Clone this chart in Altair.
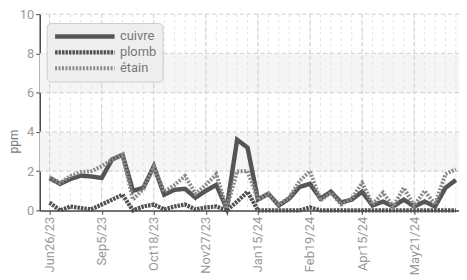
import altair as alt
import pandas as pd

tick_labels = ["Jun26/23", "Sep5/23", "Oct18/23", "Nov27/23", "Jan15/24", "Feb19/24", "Apr15/24", "May21/24"]
series = ["cuivre", "plomb", "étain"]

cuivre = [1.65, 1.35, 1.6, 1.77, 1.73, 1.65, 2.6, 2.83, 1.0, 1.15,
          2.25, 0.8, 1.05, 1.1, 0.65, 1.0, 1.3, 0.1, 3.6, 3.2,
          0.55, 0.85, 0.25, 0.6, 1.2, 1.35, 0.6, 0.95, 0.4, 0.55,
          0.95, 0.25, 0.45, 0.2, 0.55, 0.2, 0.45, 0.2, 1.15, 1.55]
plomb = [0.4, 0.0, 0.2, 0.12, 0.05, 0.3, 0.55, 0.8, 0.0, 0.2,
         0.3, 0.05, 0.2, 0.3, 0.05, 0.15, 0.2, 0.0, 0.45, 0.95,
         0.0, 0.0, 0.0, 0.0, 0.0, 0.15, 0.0, 0.0, 0.0, 0.0,
         0.0, 0.0, 0.0, 0.0, 0.0, 0.0, 0.0, 0.0, 0.0, 0.0]
etain = [1.7, 1.4, 1.75, 1.95, 2.0, 2.25, 2.6, 2.85, 0.55, 1.1,
         2.2, 0.95, 1.3, 1.75, 0.85, 1.3, 1.85, 0.1, 2.0, 2.0,
         0.55, 0.85, 0.3, 0.65, 1.5, 2.0, 0.5, 0.9, 0.3, 0.6,
         1.4, 0.3, 0.9, 0.2, 1.15, 0.25, 1.0, 0.3, 1.85, 2.1]

y_ticks = [0, 2, 4, 6, 8, 10]
band_lo = [2, 6]
band_hi = [4, 8]

rows = []
for name, vals in zip(series, [cuivre, plomb, etain]):
    for i, v in enumerate(vals):
        rows.append({"i": i, "v": v, "s": name})
df = pd.DataFrame(rows)

n = len(cuivre)
xdom = [-0.95, n - 0.7]
xscale = alt.Scale(domain=xdom, nice=False, zero=False)
yscale = alt.Scale(domain=[0, 10], nice=False)

FONT = "Roboto, sans-serif"

label_arr = "[" + ",".join("'" + t + "'" for t in tick_labels) + "]"
x_axis = alt.Axis(values=list(range(0, n, 5)), labelExpr=label_arr + "[datum.value/5]",
                  labelAngle=-90, labelAlign="right", labelBaseline="middle",
                  grid=False, title=None, tickSize=4, labelPadding=2,
                  domainColor="#444", tickColor="#444", domainWidth=1.5)
y_axis = alt.Axis(values=y_ticks, grid=False, title="ppm", tickSize=4,
                  domainColor="#444", tickColor="#444", domainWidth=1.5,
                  labelPadding=2, titleX=-26, titleY=128, titleBaseline="middle",
                  titleAlign="center")

bands = alt.Chart(pd.DataFrame({"lo": band_lo, "hi": band_hi})).mark_rect(
    color="#f5f5f5"
).encode(
    y=alt.Y("lo:Q", scale=yscale, axis=y_axis),
    y2="hi:Q",
)

minor_v = alt.Chart(pd.DataFrame({"i": list(range(n))})).mark_rule(
    color="#e4e4e4", strokeDash=[3, 3], strokeWidth=1
).encode(x=alt.X("i:Q", scale=xscale, axis=x_axis))

major_v = alt.Chart(pd.DataFrame({"i": list(range(0, n, 5))})).mark_rule(
    color="#cdcdcd", strokeDash=[4, 3], strokeWidth=1
).encode(x=alt.X("i:Q", scale=xscale, axis=x_axis))

major_h = alt.Chart(pd.DataFrame({"v": y_ticks[1:]})).mark_rule(
    color="#cdcdcd", strokeDash=[4, 3], strokeWidth=1
).encode(y=alt.Y("v:Q", scale=yscale, axis=y_axis))

lines = alt.Chart(df).mark_line(strokeJoin="miter").encode(
    x=alt.X("i:Q", scale=xscale, axis=x_axis),
    y=alt.Y("v:Q", scale=yscale, axis=y_axis),
    color=alt.Color("s:N", scale=alt.Scale(domain=series, range=["#555555", "#505050", "#8a8a8a"]),
                    legend=alt.Legend(title=None)),
    strokeDash=alt.StrokeDash("s:N", scale=alt.Scale(domain=series, range=[[1, 0], [2.5, 1], [2, 1.5]]),
                              legend=alt.Legend(title=None)),
    strokeWidth=alt.StrokeWidth("s:N", scale=alt.Scale(domain=series, range=[4.5, 4, 2.5]),
                                legend=alt.Legend(title=None)),
    order="i:Q",
)

chart = alt.layer(bands, minor_v, major_v, major_h, lines).properties(
    width=423, height=198,
    autosize=alt.AutoSizeParams(type="none"),
    padding={"left": 32, "top": 5, "right": 0, "bottom": 66},
).configure_view(stroke=None).configure_axis(
    labelFont=FONT, titleFont=FONT, labelColor="#999999", titleColor="#777777",
    labelFontSize=13, titleFontSize=12, titleFontWeight="normal",
).configure_legend(
    orient="none", legendX=7, legendY=9, fillColor="#eeeeee", strokeColor="#cccccc",
    cornerRadius=4, padding=6, labelFont=FONT, labelFontSize=13, labelColor="#777777",
    symbolType="stroke", symbolSize=3600, clipHeight=15, rowPadding=1, labelOffset=3,
)

chart.save("out.html", embed_options={"renderer": "svg", "actions": False})
